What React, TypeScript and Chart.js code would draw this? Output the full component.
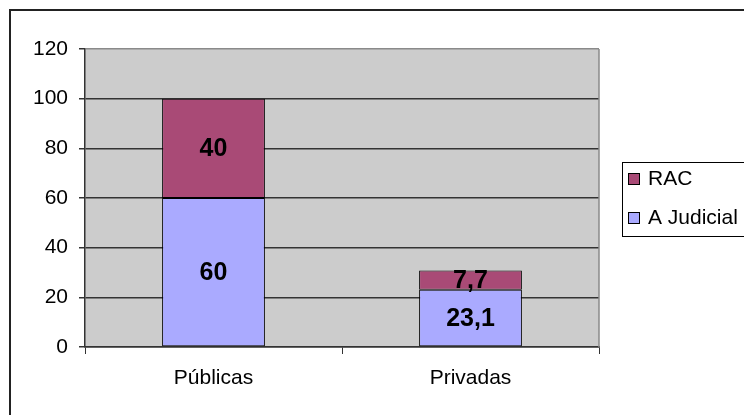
import React, { useEffect, useRef } from "react";
import { Chart, registerables } from "chart.js";

Chart.register(...registerables);

const categories = ["Públicas", "Privadas"];
const judicialValues = [60, 23.1];
const racValues = [40, 7.7];
const seriesLabels = ["A Judicial", "RAC"];
const seriesColors = ["#AAAAFF", "#A94A76"];
const yMin = 0;
const yMax = 120;
const yStep = 20;

const FONT = "'Liberation Sans', Arial, sans-serif";

const backgroundPlugin = {
  id: "plotBackground",
  beforeDraw(chart: any) {
    const { ctx, chartArea } = chart;
    ctx.save();
    ctx.fillStyle = "#CCCCCC";
    ctx.fillRect(chartArea.left, chartArea.top, chartArea.right - chartArea.left, chartArea.bottom - chartArea.top);
    ctx.restore();
  },
  afterDraw(chart: any) {
    const { ctx, chartArea } = chart;
    ctx.save();
    // plot right border (gray)
    ctx.strokeStyle = "#8A8A8A";
    ctx.lineWidth = 1.5;
    ctx.beginPath();
    ctx.moveTo(chartArea.right, chartArea.top);
    ctx.lineTo(chartArea.right, chartArea.bottom);
    ctx.stroke();
    // outer frame
    ctx.strokeStyle = "#222";
    ctx.lineWidth = 2;
    ctx.strokeRect(10, 10, 900, 600);
    // legend
    const lx = 622.5;
    const ly = 162.5;
    ctx.fillStyle = "#FFFFFF";
    ctx.fillRect(lx, ly, 200, 74);
    ctx.strokeStyle = "#000";
    ctx.lineWidth = 1;
    ctx.strokeRect(lx, ly, 200, 74);
    const ds = chart.data.datasets.slice().reverse();
    ds.forEach((d: any, i: number) => {
      const cy = 179 + i * 39;
      ctx.fillStyle = d.backgroundColor;
      ctx.fillRect(628.5, cy - 5.5, 11, 11);
      ctx.strokeStyle = "#000";
      ctx.strokeRect(628.5, cy - 5.5, 11, 11);
      ctx.fillStyle = "#000";
      ctx.font = `21px ${FONT}`;
      ctx.textAlign = "left";
      ctx.textBaseline = "middle";
      ctx.fillText(d.label, 648, cy);
    });
    ctx.restore();
  },
};

const valueLabelPlugin = {
  id: "valueLabels",
  afterDatasetsDraw(chart: any) {
    const { ctx } = chart;
    ctx.save();
    ctx.font = `bold 25px ${FONT}`;
    ctx.fillStyle = "#000";
    ctx.textAlign = "center";
    ctx.textBaseline = "middle";
    chart.data.datasets.forEach((d: any, i: number) => {
      const meta = chart.getDatasetMeta(i);
      meta.data.forEach((bar: any, j: number) => {
        const p = bar.getProps(["x", "y", "base"], true);
        const text = String(d.data[j]).replace(".", ",");
        ctx.fillText(text, p.x, (p.y + p.base) / 2 + 1);
      });
    });
    ctx.restore();
  },
};

export default function App() {
  const ref = useRef<HTMLCanvasElement>(null);

  useEffect(() => {
    if (!ref.current) return;
    const chart = new Chart(ref.current, {
      type: "bar",
      data: {
        labels: categories,
        datasets: [
          {
            label: seriesLabels[0],
            data: judicialValues,
            backgroundColor: seriesColors[0],
            borderColor: "#000",
            borderWidth: 1,
            borderSkipped: false,
            barPercentage: 0.4,
            categoryPercentage: 1,
          },
          {
            label: seriesLabels[1],
            data: racValues,
            backgroundColor: seriesColors[1],
            borderColor: "#000",
            borderWidth: 1,
            borderSkipped: false,
            barPercentage: 0.4,
            categoryPercentage: 1,
          },
        ],
      },
      options: {
        animation: false,
        responsive: false,
        devicePixelRatio: 1,
        layout: { padding: { top: 49, right: 145, left: 0, bottom: 0 } },
        plugins: {
          legend: { display: false },
          tooltip: { enabled: false },
        },
        scales: {
          x: {
            stacked: true,
            ticks: { color: "#000", font: { family: FONT, size: 21 }, padding: 12 },
            grid: { offset: true, drawOnChartArea: false, tickLength: 7, color: "#333" },
            border: { display: true, color: "#333", width: 1.5 },
            afterFit: (s: any) => {
              s.height = 68;
            },
          },
          y: {
            stacked: true,
            min: yMin,
            max: yMax,
            ticks: { stepSize: yStep, color: "#000", font: { family: FONT, size: 21 }, padding: 11 },
            grid: {
              color: (c: any) => (c.tick && c.tick.value === yMax ? "#8A8A8A" : "#333"),
              tickColor: "#333",
              lineWidth: 1.5,
              tickLength: 6,
            },
            border: { display: true, color: "#333", width: 1.5 },
            afterFit: (s: any) => {
              s.width = 85;
            },
          },
        },
      },
      plugins: [backgroundPlugin, valueLabelPlugin],
    });
    return () => chart.destroy();
  }, []);

  return (
    <div style={{ position: "absolute", left: 0, top: 0, width: 744, height: 415, background: "#fff" }}>
      <canvas ref={ref} width={744} height={415} style={{ display: "block" }} />
    </div>
  );
}
